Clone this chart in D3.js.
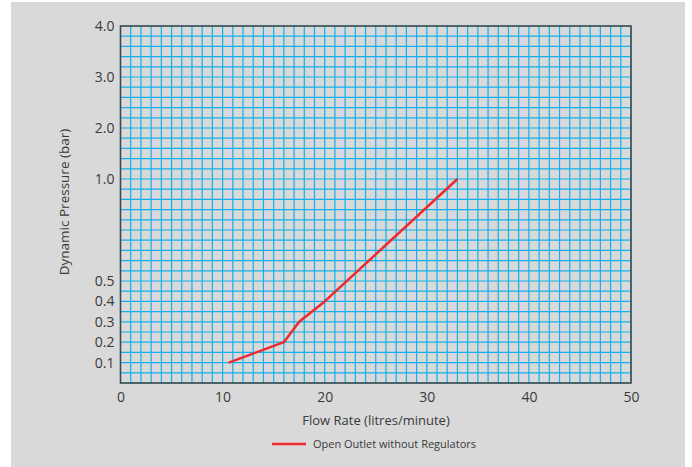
<!DOCTYPE html>
<html>
<head>
<meta charset="utf-8">
<script src="https://cdn.jsdelivr.net/npm/d3@7"></script>
<style>
  html, body { margin: 0; padding: 0; background: #ffffff; }
  svg { display: block; }
  text { font-family: "Open Sans", "Noto Sans", sans-serif; fill: #3a3a3a; }
</style>
</head>
<body>
<svg id="chart" width="692" height="467"></svg>
<script>
// ---- data ----
const seriesName = "Open Outlet without Regulators";
const flowRate = [10.6, 16, 17.5, 20, 33];        // litres/minute
const pressure = [0.1, 0.2, 0.3, 0.4, 1.0];       // bar
const xTickValues = [0, 10, 20, 30, 40, 50];
const yTickValues = [0.1, 0.2, 0.3, 0.4, 0.5, 1.0, 2.0, 3.0, 4.0];
const yTickLabels = ["0.1", "0.2", "0.3", "0.4", "0.5", "1.0", "2.0", "3.0", "4.0"];
const xAxisTitle = "Flow Rate (litres/minute)";
const yAxisTitle = "Dynamic Pressure (bar)";

// ---- layout ----
const svg = d3.select("#chart");
const pL = 120.5, pR = 631, pT = 26, pB = 383;

svg.append("rect").attr("x", 11).attr("y", 2).attr("width", 674).attr("height", 465).attr("fill", "#d9d9d9");

const x = d3.scaleLinear().domain([0, 50]).range([pL, pR]);
// piecewise scale: 0..1 bar over 20 grid rows, 1..4 bar over 15 grid rows
const y = d3.scaleLinear().domain([0, 1, 4]).range([pB, pB - 20 * (pB - pT) / 35, pT]);

// grid
const gridX = d3.range(0, 51, 1);
const gridY = d3.range(0, 20).map(i => i * 0.05).concat(d3.range(0, 16).map(i => 1 + i * 0.2));
const g = svg.append("g");
g.selectAll("line.gx").data(gridX).join("line")
  .attr("x1", d => x(d)).attr("x2", d => x(d)).attr("y1", pT).attr("y2", pB)
  .attr("stroke", "#12b0ec").attr("stroke-width", 1.2);
g.selectAll("line.gy").data(gridY).join("line")
  .attr("y1", d => y(d)).attr("y2", d => y(d)).attr("x1", pL).attr("x2", pR)
  .attr("stroke", "#12b0ec").attr("stroke-width", 1.2);

// frame
svg.append("rect").attr("x", pL).attr("y", pT).attr("width", pR - pL).attr("height", pB - pT)
  .attr("fill", "none").attr("stroke", "#444").attr("stroke-width", 1.5);

// axes
const xAxis = d3.axisBottom(x).tickValues(xTickValues).tickSize(0).tickPadding(9).tickFormat(d3.format("d"));
const xg = svg.append("g").attr("transform", `translate(0,${pB})`).call(xAxis);
xg.select(".domain").remove();
xg.selectAll("text").attr("font-size", 14).style("fill", "#3a3a3a");

const yAxis = d3.axisLeft(y).tickValues(yTickValues).tickSize(0).tickPadding(6)
  .tickFormat((d, i) => yTickLabels[i]);
const yg = svg.append("g").attr("transform", `translate(${pL},0)`).call(yAxis);
yg.select(".domain").remove();
yg.selectAll("text").attr("font-size", 14).style("fill", "#3a3a3a");

// line
const line = d3.line().x((d, i) => x(flowRate[i])).y(d => y(d));
svg.append("path").datum(pressure).attr("d", line)
  .attr("fill", "none").attr("stroke", "#ee2a2e").attr("stroke-width", 2.5).attr("stroke-linejoin", "round");

// titles
svg.append("text").attr("x", 376).attr("y", 425).attr("text-anchor", "middle").attr("font-size", 13).text(xAxisTitle);
svg.append("text").attr("transform", "translate(69,202) rotate(-90)").attr("text-anchor", "middle").attr("font-size", 13.5).text(yAxisTitle);

// legend
svg.append("line").attr("x1", 272).attr("x2", 306).attr("y1", 444).attr("y2", 444).attr("stroke", "#ee2a2e").attr("stroke-width", 2.5);
svg.append("text").attr("x", 313).attr("y", 448).attr("font-size", 11).text(seriesName);
</script>
</body>
</html>
